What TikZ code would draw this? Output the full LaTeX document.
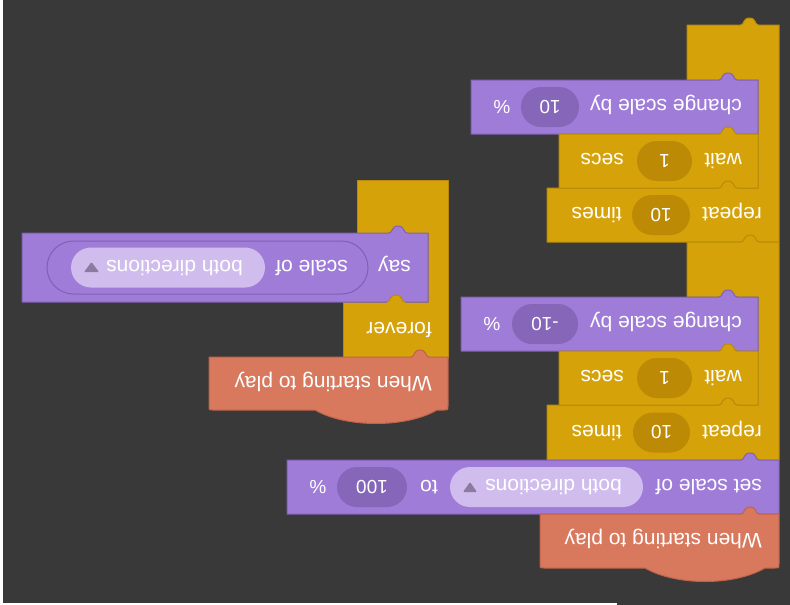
\documentclass[tikz,border=0pt]{standalone}
\usepackage{fontspec}
\setmainfont{Liberation Sans}
\definecolor{bgc}{RGB}{57,57,57}
\definecolor{ylw}{RGB}{214,162,9}
\definecolor{ylwline}{RGB}{184,138,10}
\definecolor{ylwfield}{RGB}{189,138,6}
\definecolor{prp}{RGB}{159,124,216}
\definecolor{prpline}{RGB}{126,97,178}
\definecolor{prpfield}{RGB}{134,102,185}
\definecolor{drop}{RGB}{208,189,237}
\definecolor{tri}{RGB}{141,122,160}
\definecolor{hat}{RGB}{216,120,93}
\definecolor{hatline}{RGB}{190,100,76}
\newcommand\bmpc[2]{({#1-9},#2) .. controls ({#1-5},#2) and ({#1-7},{#2-7}) .. (#1,{#2-7}) .. controls ({#1+7},{#2-7}) and ({#1+5},#2) .. ({#1+9},#2)}
\newcommand\bmp[2]{-- \bmpc{#1}{#2}}
\tikzset{
  yblk/.style={fill=ylw, draw=ylwline, line width=1pt, line join=round},
  pblk/.style={fill=prp, draw=prpline, line width=1pt, line join=round},
  hblk/.style={fill=hat, draw=hatline, line width=1pt, line join=round},
  lbl/.style={text=white, font=\fontsize{21}{21}\selectfont, rotate=180, inner sep=0pt, text height=15pt, text depth=0pt, anchor=west},
  lblc/.style={text=white, font=\fontsize{19}{19}\selectfont, rotate=180, inner sep=0pt, text height=13.6pt, text depth=0pt, anchor=center},
  pill/.style={fill=#1, rounded corners=20pt, minimum height=40pt, inner sep=0pt, text=white, font=\fontsize{19}{19}\selectfont, rotate=180, text height=13.6pt, text depth=0pt, anchor=center},
}
\begin{document}
\begin{tikzpicture}[x=1pt,y=-1pt]
\useasboundingbox (0,0) rectangle (790,605);
\fill[white] (0,0) rectangle (790,605);
\fill[bgc] (3,0) rectangle (790,603);
\fill[bgc] (617,603) rectangle (790,605);

% ---------- script 1 ----------
\draw[yblk] (687,25) \bmp{749.5}{25} -- (779,25) -- (779,242) -- (547,242) -- (547,188) -- (758,188) -- (758,80) -- (687,80) -- cycle;
\draw[pblk] (471,80) \bmp{728}{80} -- (758,80) -- (758,134) -- (471,134) -- cycle;
\draw[yblk] (559,134) \bmp{728}{134} -- (758,134) -- (758,188) -- (559,188) -- cycle;
\fill[ylw] \bmpc{728}{188} -- (737,189.5) -- (719,189.5) -- cycle;
\draw[ylwline, line width=1pt] \bmpc{728}{188};

\draw[yblk] (687,242) \bmp{750}{242} -- (779,242) -- (779,460) -- (547,460) -- (547,405) -- (758,405) -- (758,297) -- (687,297) -- cycle;
\draw[pblk] (461,297) \bmp{728}{297} -- (758,297) -- (758,351) -- (461,351) -- cycle;
\draw[yblk] (559,351) \bmp{728}{351} -- (758,351) -- (758,405) -- (559,405) -- cycle;
\fill[ylw] \bmpc{728}{405} -- (737,406.5) -- (719,406.5) -- cycle;
\draw[ylwline, line width=1pt] \bmpc{728}{405};

\draw[pblk] (287,460) \bmp{750}{460} -- (779,460) -- (779,514) -- (287,514) -- cycle;
\draw[hblk] (540,514) \bmp{750}{514} -- (779,514) -- (779,564) .. controls (779,568) .. (775,568) -- (765,568) .. controls (734,586) and (676,586) .. (645,568) -- (544,568) .. controls (540,568) .. (540,564) -- cycle;

% texts script 1
\node[lbl] (t1) at (742,107) {change scale by};
\node[pill=prpfield, minimum width=58pt] (f1) at (550,107) {10};
\node[lblc] (pc1) at (502,107) {\%};
\node[lbl] (t2) at (742,161) {wait};
\node[pill=ylwfield, minimum width=55pt] (f2) at (664.5,161) {1};
\node[lbl] (t3) at (624,161) {secs};
\node[lbl] (t4) at (762,215) {repeat};
\node[pill=ylwfield, minimum width=58pt] (f3) at (661,215) {10};
\node[lbl] (t5) at (622,215) {times};

\node[lbl] (t6) at (742,324) {change scale by};
\node[pill=prpfield, minimum width=66pt] (f4) at (545,324) {-10};
\node[lblc] (pc2) at (492,324) {\%};
\node[lbl] (t7) at (742,378) {wait};
\node[pill=ylwfield, minimum width=55pt] (f5) at (664.5,378) {1};
\node[lbl] (t8) at (624,378) {secs};
\node[lbl] (t9) at (762,432.5) {repeat};
\node[pill=ylwfield, minimum width=57pt] (f6) at (661.5,432.5) {10};
\node[lbl] (t10) at (622,432.5) {times};

\node[lbl] (t11) at (762,487) {set scale of};
\node[pill=drop, minimum width=193pt] (d1) at (546.5,487) {};
\node[lbl] (t12) at (622,487) {both directions};
\fill[tri, rounded corners=1pt] (463,492) -- (477,492) -- (470,482) -- cycle;
\node[lblc] (t13) at (429,487) {\fontsize{21}{21}\selectfont to};
\node[pill=prpfield, minimum width=70pt] (f7) at (372,487) {100};
\node[lblc] (pc3) at (318,487) {\%};
\node[lbl] (t14) at (762,541) {When starting to play};

% ---------- script 2 ----------
\draw[yblk] (357,180) -- (448,180) -- (448,357) -- (343,357) -- (343,302) -- (428,302) -- (428,233) -- (357,233) -- cycle;
\draw[pblk] (22,233) \bmp{398}{233} -- (428,233) -- (428,302) -- (22,302) -- cycle;
\fill[ylw] \bmpc{396}{302} -- (405,303.5) -- (387,303.5) -- cycle;
\draw[ylwline, line width=1pt] \bmpc{396}{302};
\draw[hblk] (209,357) \bmp{420}{357} -- (448,357) -- (448,406) .. controls (448,410) .. (444,410) -- (437,410) .. controls (406,428) and (346,428) .. (315,410) -- (213,410) .. controls (209,410) .. (209,406) -- cycle;

\node[fill=prp, draw=prpline, line width=1pt, rounded corners=26.5pt, minimum width=321pt, minimum height=53pt, inner sep=0pt] (rep) at (207.5,267.5) {};
\node[pill=drop, minimum width=194pt] (d2) at (168,267.5) {};
\fill[tri, rounded corners=1pt] (84,272) -- (99,272) -- (91.5,262) -- cycle;
\node[lbl] (s1) at (411,267.5) {say};
\node[lbl] (s2) at (348,267.5) {scale of};
\node[lbl] (s3) at (243,267.5) {both directions};
\node[lbl] (s4) at (432,329.5) {forever};
\node[lbl] (s5) at (432,383.5) {When starting to play};
\end{tikzpicture}
\end{document}
